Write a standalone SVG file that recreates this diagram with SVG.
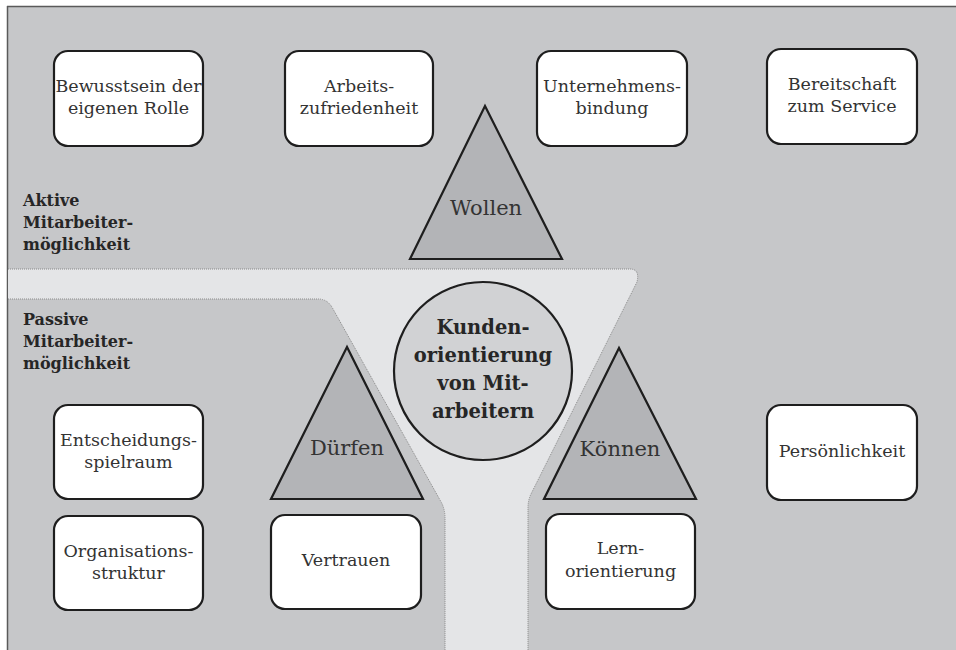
<svg xmlns="http://www.w3.org/2000/svg" width="956" height="650" viewBox="0 0 956 650">
<style>
.box{fill:#fff;stroke:#1e1e1e;stroke-width:2.2}
.tri{fill:#b3b4b7;stroke:#1e1e1e;stroke-width:2.2;stroke-linejoin:miter}
.t{font-family:"DejaVu Serif","Liberation Serif",serif;font-size:17.5px;fill:#333;text-anchor:middle}
.tl{font-family:"DejaVu Serif","Liberation Serif",serif;font-size:21px;fill:#333;text-anchor:middle}
.b{font-family:"DejaVu Serif","Liberation Serif",serif;font-size:16px;font-weight:bold;fill:#262626}
.c{font-family:"DejaVu Serif","Liberation Serif",serif;font-size:19.5px;font-weight:bold;fill:#262626;text-anchor:middle}
.dot{fill:none;stroke:#8a8a8a;stroke-width:1;stroke-dasharray:1 1}
</style>
<rect x="0" y="0" width="956" height="650" fill="#fff"/>
<rect x="7" y="6" width="949" height="644" fill="#c6c7c9"/>
<path d="M7 6.5H956M7.5 6V650" fill="none" stroke="#5a5a5a" stroke-width="1.5"/>
<g id="band">
<path d="M8 269 H630 Q640 269 637 282 L531 494 Q528 500 528 508 V650 H445 V518 Q445 508 440 500 L333 309 Q328 299 318 299 H8 Z" fill="#e4e5e7"/>
<path class="dot" d="M8 269 H630 Q640 269 637 282 L531 494 Q528 500 528 508 V650"/>
<path class="dot" d="M8 299 H318 Q328 299 333 309 L440 500 Q445 508 445 518 V650"/>
</g>
<g id="labels">
<text class="b" x="23" y="206">Aktive</text>
<text class="b" x="23" y="228">Mitarbeiter-</text>
<text class="b" x="23" y="250">möglichkeit</text>
<text class="b" x="23" y="325">Passive</text>
<text class="b" x="23" y="347">Mitarbeiter-</text>
<text class="b" x="23" y="369">möglichkeit</text>
</g>
<g id="center">
<circle cx="483" cy="371" r="89" fill="#d1d2d4" stroke="#1e1e1e" stroke-width="2.2"/>
<text class="c" x="483" y="334">Kunden-</text>
<text class="c" x="483" y="362">orientierung</text>
<text class="c" x="483" y="390">von Mit-</text>
<text class="c" x="483" y="418">arbeitern</text>
</g>
<g id="wollen">
<polygon class="tri" points="485,106 410,259 562,259"/>
<text class="tl" x="486" y="215">Wollen</text>
</g>
<g id="duerfen">
<polygon class="tri" points="347,347 271,499 423,499"/>
<text class="tl" x="347" y="455">Dürfen</text>
</g>
<g id="koennen">
<polygon class="tri" points="619,348 544,499 696,499"/>
<text class="tl" x="620" y="456">Können</text>
</g>
<g id="bewusstsein">
<rect class="box" x="54" y="51" width="149" height="95" rx="14"/>
<text class="t" x="128.5" y="92">Bewusstsein der</text>
<text class="t" x="128.5" y="114">eigenen Rolle</text>
</g>
<g id="arbeitszufriedenheit">
<rect class="box" x="285" y="51" width="148" height="95" rx="14"/>
<text class="t" x="359" y="92">Arbeits-</text>
<text class="t" x="359" y="114">zufriedenheit</text>
</g>
<g id="unternehmensbindung">
<rect class="box" x="537" y="51" width="150" height="95" rx="14"/>
<text class="t" x="612" y="92">Unternehmens-</text>
<text class="t" x="612" y="114">bindung</text>
</g>
<g id="bereitschaft">
<rect class="box" x="767" y="49" width="150" height="95" rx="14"/>
<text class="t" x="842" y="90">Bereitschaft</text>
<text class="t" x="842" y="112">zum Service</text>
</g>
<g id="entscheidungsspielraum">
<rect class="box" x="54" y="405" width="149" height="94" rx="14"/>
<text class="t" x="128.5" y="446">Entscheidungs-</text>
<text class="t" x="128.5" y="468">spielraum</text>
</g>
<g id="organisationsstruktur">
<rect class="box" x="54" y="516" width="149" height="94" rx="14"/>
<text class="t" x="128.5" y="557">Organisations-</text>
<text class="t" x="128.5" y="579">struktur</text>
</g>
<g id="vertrauen">
<rect class="box" x="271" y="515" width="150" height="94" rx="14"/>
<text class="t" x="346" y="566">Vertrauen</text>
</g>
<g id="lernorientierung">
<rect class="box" x="546" y="514" width="149" height="95" rx="14"/>
<text class="t" x="620.5" y="554">Lern-</text>
<text class="t" x="620.5" y="577">orientierung</text>
</g>
<g id="persoenlichkeit">
<rect class="box" x="767" y="405" width="150" height="95" rx="14"/>
<text class="t" x="842" y="457">Persönlichkeit</text>
</g>
<g id="connectors"></g>
</svg>
